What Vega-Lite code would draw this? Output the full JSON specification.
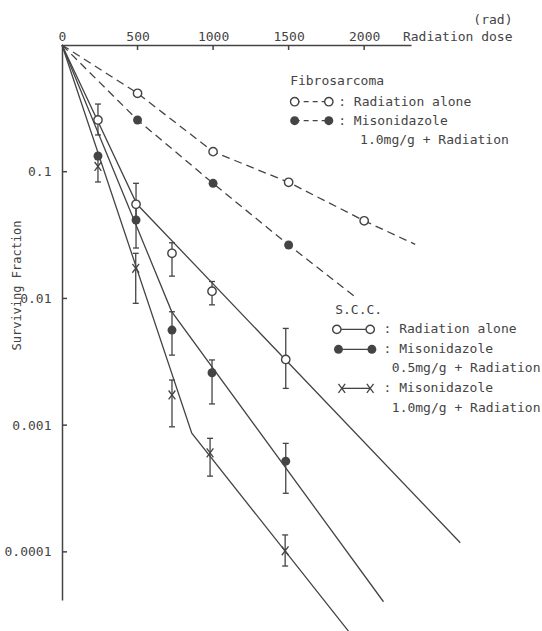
{
  "$schema": "https://vega.github.io/schema/vega-lite/v6.json",
  "width": 349,
  "height": 555,
  "autosize": {"type": "none"},
  "padding": {"left": 62, "top": 45, "right": 131, "bottom": 31},
  "background": "white",
  "config": {
    "view": {"stroke": null},
    "font": "DejaVu Sans Mono",
    "text": {"font": "DejaVu Sans Mono", "fontSize": 13, "color": "#444"}
  },
  "datasets": {
    "axisTicks": [
      {"axis": "x", "dose": 500, "frac": 1},
      {"axis": "x", "dose": 1000, "frac": 1},
      {"axis": "x", "dose": 1500, "frac": 1},
      {"axis": "x", "dose": 2000, "frac": 1},
      {"axis": "y", "dose": 0, "frac": 0.1},
      {"axis": "y", "dose": 0, "frac": 0.01},
      {"axis": "y", "dose": 0, "frac": 0.001},
      {"axis": "y", "dose": 0, "frac": 0.0001}
    ],
    "curves": [
      {"tumor": "Fibrosarcoma", "treatment": "Radiation alone", "dose": 0, "frac": 1},
      {"tumor": "Fibrosarcoma", "treatment": "Radiation alone", "dose": 500, "frac": 0.416},
      {"tumor": "Fibrosarcoma", "treatment": "Radiation alone", "dose": 1000, "frac": 0.144},
      {"tumor": "Fibrosarcoma", "treatment": "Radiation alone", "dose": 1500, "frac": 0.0825},
      {"tumor": "Fibrosarcoma", "treatment": "Radiation alone", "dose": 2000, "frac": 0.041},
      {"tumor": "Fibrosarcoma", "treatment": "Radiation alone", "dose": 2338, "frac": 0.0267},
      {"tumor": "Fibrosarcoma", "treatment": "Misonidazole 1.0mg/g + Radiation", "dose": 0, "frac": 1},
      {"tumor": "Fibrosarcoma", "treatment": "Misonidazole 1.0mg/g + Radiation", "dose": 500, "frac": 0.256},
      {"tumor": "Fibrosarcoma", "treatment": "Misonidazole 1.0mg/g + Radiation", "dose": 1000, "frac": 0.081},
      {"tumor": "Fibrosarcoma", "treatment": "Misonidazole 1.0mg/g + Radiation", "dose": 1500, "frac": 0.0264},
      {"tumor": "Fibrosarcoma", "treatment": "Misonidazole 1.0mg/g + Radiation", "dose": 1940, "frac": 0.0103},
      {"tumor": "S.C.C.", "treatment": "Radiation alone", "dose": 0, "frac": 1},
      {"tumor": "S.C.C.", "treatment": "Radiation alone", "dose": 495, "frac": 0.0556},
      {"tumor": "S.C.C.", "treatment": "Radiation alone", "dose": 2636, "frac": 0.000118},
      {"tumor": "S.C.C.", "treatment": "Misonidazole 0.5mg/g + Radiation", "dose": 0, "frac": 1},
      {"tumor": "S.C.C.", "treatment": "Misonidazole 0.5mg/g + Radiation", "dose": 726, "frac": 0.00787},
      {"tumor": "S.C.C.", "treatment": "Misonidazole 0.5mg/g + Radiation", "dose": 2128, "frac": 0.0000404},
      {"tumor": "S.C.C.", "treatment": "Misonidazole 1.0mg/g + Radiation", "dose": 0, "frac": 1},
      {"tumor": "S.C.C.", "treatment": "Misonidazole 1.0mg/g + Radiation", "dose": 859, "frac": 0.000863},
      {"tumor": "S.C.C.", "treatment": "Misonidazole 1.0mg/g + Radiation", "dose": 1896, "frac": 0.0000237}
    ],
    "points": [
      {"tumor": "Fibrosarcoma", "treatment": "Radiation alone", "dose": 500, "frac": 0.416},
      {"tumor": "Fibrosarcoma", "treatment": "Radiation alone", "dose": 1000, "frac": 0.144},
      {"tumor": "Fibrosarcoma", "treatment": "Radiation alone", "dose": 1500, "frac": 0.0825},
      {"tumor": "Fibrosarcoma", "treatment": "Radiation alone", "dose": 2000, "frac": 0.041},
      {"tumor": "Fibrosarcoma", "treatment": "Misonidazole 1.0mg/g + Radiation", "dose": 500, "frac": 0.256},
      {"tumor": "Fibrosarcoma", "treatment": "Misonidazole 1.0mg/g + Radiation", "dose": 1000, "frac": 0.081},
      {"tumor": "Fibrosarcoma", "treatment": "Misonidazole 1.0mg/g + Radiation", "dose": 1500, "frac": 0.0264},
      {"tumor": "S.C.C.", "treatment": "Radiation alone", "dose": 238, "frac": 0.256, "lo": 0.195, "hi": 0.342},
      {"tumor": "S.C.C.", "treatment": "Radiation alone", "dose": 490, "frac": 0.0553, "lo": 0.042, "hi": 0.081},
      {"tumor": "S.C.C.", "treatment": "Radiation alone", "dose": 728, "frac": 0.0227, "lo": 0.015, "hi": 0.0275},
      {"tumor": "S.C.C.", "treatment": "Radiation alone", "dose": 993, "frac": 0.0114, "lo": 0.0089, "hi": 0.0136},
      {"tumor": "S.C.C.", "treatment": "Radiation alone", "dose": 1481, "frac": 0.0033, "lo": 0.00195, "hi": 0.0058},
      {"tumor": "S.C.C.", "treatment": "Misonidazole 0.5mg/g + Radiation", "dose": 238, "frac": 0.133},
      {"tumor": "S.C.C.", "treatment": "Misonidazole 0.5mg/g + Radiation", "dose": 490, "frac": 0.0416, "lo": 0.025, "hi": 0.055},
      {"tumor": "S.C.C.", "treatment": "Misonidazole 0.5mg/g + Radiation", "dose": 728, "frac": 0.00563, "lo": 0.00357, "hi": 0.00785},
      {"tumor": "S.C.C.", "treatment": "Misonidazole 0.5mg/g + Radiation", "dose": 993, "frac": 0.00259, "lo": 0.00147, "hi": 0.00327},
      {"tumor": "S.C.C.", "treatment": "Misonidazole 0.5mg/g + Radiation", "dose": 1481, "frac": 0.00052, "lo": 0.00029, "hi": 0.000718},
      {"tumor": "S.C.C.", "treatment": "Misonidazole 1.0mg/g + Radiation", "dose": 238, "frac": 0.11, "lo": 0.083, "hi": 0.125},
      {"tumor": "S.C.C.", "treatment": "Misonidazole 1.0mg/g + Radiation", "dose": 488, "frac": 0.0173, "lo": 0.00915, "hi": 0.0227},
      {"tumor": "S.C.C.", "treatment": "Misonidazole 1.0mg/g + Radiation", "dose": 728, "frac": 0.00173, "lo": 0.00097, "hi": 0.00227},
      {"tumor": "S.C.C.", "treatment": "Misonidazole 1.0mg/g + Radiation", "dose": 980, "frac": 0.000605, "lo": 0.000396, "hi": 0.000787},
      {"tumor": "S.C.C.", "treatment": "Misonidazole 1.0mg/g + Radiation", "dose": 1477, "frac": 0.000102, "lo": 0.0000773, "hi": 0.000136}
    ],
    "legendSym": [
      {"tumor": "Fibrosarcoma", "treatment": "Radiation alone", "d1": 1540, "d2": 1766, "frac": 0.357},
      {"tumor": "Fibrosarcoma", "treatment": "Misonidazole 1.0mg/g + Radiation", "d1": 1540, "d2": 1766, "frac": 0.2527},
      {"tumor": "S.C.C.", "treatment": "Radiation alone", "d1": 1819, "d2": 2040, "frac": 0.0057},
      {"tumor": "S.C.C.", "treatment": "Misonidazole 0.5mg/g + Radiation", "d1": 1830, "d2": 2051, "frac": 0.003965},
      {"tumor": "S.C.C.", "treatment": "Misonidazole 1.0mg/g + Radiation", "d1": 1852, "d2": 2040, "frac": 0.001952}
    ],
    "legendText": [
      {"label": "Fibrosarcoma", "dose": 1510, "frac": 0.522},
      {"label": ": Radiation alone", "dose": 1828, "frac": 0.357},
      {"label": ": Misonidazole", "dose": 1828, "frac": 0.2527},
      {"label": "1.0mg/g + Radiation", "dose": 1973, "frac": 0.178},
      {"label": "S.C.C.", "dose": 1808, "frac": 0.0081},
      {"label": ": Radiation alone", "dose": 2128, "frac": 0.0057},
      {"label": ": Misonidazole", "dose": 2128, "frac": 0.003965},
      {"label": "0.5mg/g + Radiation", "dose": 2183, "frac": 0.002806},
      {"label": ": Misonidazole", "dose": 2128, "frac": 0.001952},
      {"label": "1.0mg/g + Radiation", "dose": 2183, "frac": 0.001357}
    ]
  },
  "encoding": {
    "x": {
      "field": "dose", "type": "quantitative",
      "scale": {"type": "linear", "domain": [0, 2310], "nice": false, "zero": false},
      "axis": {
        "orient": "top", "values": [0, 500, 1000, 1500, 2000], "format": "d", "grid": false,
        "ticks": false,
        "domainColor": "#444", "domainWidth": 1.5,
        "labelPadding": 2, "labelFontSize": 13, "labelFont": "DejaVu Sans Mono", "labelColor": "#444",
        "labelFlush": false, "labelOverlap": false,
        "title": ["(rad)", "Radiation dose"], "titleFont": "DejaVu Sans Mono", "titleFontSize": 13,
        "titleFontWeight": "normal", "titleColor": "#444", "titleAlign": "right",
        "titleX": 450, "titleY": -19, "titleBaseline": "bottom", "titleLineHeight": 17, "titleAngle": 0
      }
    },
    "y": {
      "field": "frac", "type": "quantitative",
      "scale": {"type": "log", "domain": [0.0000417, 1], "nice": false},
      "axis": {
        "orient": "left", "values": [0.1, 0.01, 0.001, 0.0001], "grid": false,
        "ticks": false,
        "domainColor": "#444", "domainWidth": 1.5,
        "labelPadding": 11, "labelFontSize": 13, "labelFont": "DejaVu Sans Mono", "labelColor": "#444",
        "labelFlush": false, "labelOverlap": false, "labelExpr": "toString(datum.value)",
        "title": "Surviving Fraction", "titleFont": "DejaVu Sans Mono", "titleFontSize": 12,
        "titleFontWeight": "normal", "titleColor": "#444", "titleAlign": "center",
        "titleBaseline": "middle", "titleAngle": 270, "titleX": -46, "titleY": 240
      }
    }
  },
  "layer": [
    {
      "data": {"name": "axisTicks"},
      "transform": [{"filter": "datum.axis == 'x'"}],
      "mark": {"type": "tick", "orient": "vertical", "clip": false, "color": "#444", "size": 5, "thickness": 1.5, "opacity": 1, "yOffset": 2.5}
    },
    {
      "data": {"name": "axisTicks"},
      "transform": [{"filter": "datum.axis == 'y'"}],
      "mark": {"type": "tick", "orient": "horizontal", "clip": false, "color": "#444", "size": 5, "thickness": 1.5, "opacity": 1, "xOffset": 2.5}
    },
    {
      "data": {"name": "curves"},
      "transform": [{"filter": "datum.tumor == 'Fibrosarcoma'"}],
      "mark": {"type": "line", "clip": false, "color": "#444", "strokeWidth": 1.3, "strokeDash": [8, 5]},
      "encoding": {"detail": {"field": "treatment"}}
    },
    {
      "data": {"name": "curves"},
      "transform": [{"filter": "datum.tumor == 'S.C.C.'"}],
      "mark": {"type": "line", "clip": false, "color": "#444", "strokeWidth": 1.3},
      "encoding": {"detail": {"field": "treatment"}}
    },
    {
      "data": {"name": "points"},
      "transform": [
        {"filter": "isValid(datum.lo)"},
        {"fold": ["lo", "hi"], "as": ["bound", "frac"]}
      ],
      "mark": {"type": "line", "clip": false, "color": "#444", "strokeWidth": 1.3},
      "encoding": {"detail": [{"field": "treatment"}, {"field": "dose"}]}
    },
    {
      "data": {"name": "points"},
      "transform": [
        {"filter": "isValid(datum.lo)"},
        {"fold": ["lo", "hi"], "as": ["bound", "frac"]}
      ],
      "mark": {"type": "tick", "orient": "horizontal", "clip": false, "color": "#444", "size": 6, "thickness": 1.3, "opacity": 1}
    },
    {
      "data": {"name": "points"},
      "transform": [{"filter": "datum.treatment == 'Radiation alone'"}],
      "mark": {"type": "point", "shape": "circle", "filled": true, "fill": "white", "stroke": "#444", "strokeWidth": 1.4, "size": 70, "opacity": 1, "clip": false}
    },
    {
      "data": {"name": "points"},
      "transform": [{"filter": "(datum.tumor == 'Fibrosarcoma' && datum.treatment != 'Radiation alone') || datum.treatment == 'Misonidazole 0.5mg/g + Radiation'"}],
      "mark": {"type": "point", "shape": "circle", "filled": true, "fill": "#444", "size": 80, "opacity": 1, "clip": false}
    },
    {
      "data": {"name": "points"},
      "transform": [{"filter": "datum.tumor == 'S.C.C.' && datum.treatment == 'Misonidazole 1.0mg/g + Radiation'"}],
      "mark": {"type": "point", "shape": "M-0.75,-1L0.75,1M0.75,-1L-0.75,1", "filled": false, "stroke": "#444", "strokeWidth": 1.3, "size": 80, "opacity": 1, "clip": false}
    },
    {
      "data": {"name": "legendSym"},
      "transform": [
        {"filter": "datum.tumor == 'Fibrosarcoma'"},
        {"fold": ["d1", "d2"], "as": ["end", "dose"]}
      ],
      "mark": {"type": "line", "clip": false, "color": "#444", "strokeWidth": 1.3, "strokeDash": [5, 4]},
      "encoding": {"detail": {"field": "treatment"}}
    },
    {
      "data": {"name": "legendSym"},
      "transform": [
        {"filter": "datum.tumor == 'S.C.C.'"},
        {"fold": ["d1", "d2"], "as": ["end", "dose"]}
      ],
      "mark": {"type": "line", "clip": false, "color": "#444", "strokeWidth": 1.3},
      "encoding": {"detail": {"field": "treatment"}}
    },
    {
      "data": {"name": "legendSym"},
      "transform": [
        {"filter": "datum.treatment == 'Radiation alone'"},
        {"fold": ["d1", "d2"], "as": ["end", "dose"]}
      ],
      "mark": {"type": "point", "shape": "circle", "filled": true, "fill": "white", "stroke": "#444", "strokeWidth": 1.4, "size": 70, "opacity": 1, "clip": false}
    },
    {
      "data": {"name": "legendSym"},
      "transform": [
        {"filter": "(datum.tumor == 'Fibrosarcoma' && datum.treatment != 'Radiation alone') || datum.treatment == 'Misonidazole 0.5mg/g + Radiation'"},
        {"fold": ["d1", "d2"], "as": ["end", "dose"]}
      ],
      "mark": {"type": "point", "shape": "circle", "filled": true, "fill": "#444", "size": 80, "opacity": 1, "clip": false}
    },
    {
      "data": {"name": "legendSym"},
      "transform": [
        {"filter": "datum.tumor == 'S.C.C.' && datum.treatment == 'Misonidazole 1.0mg/g + Radiation'"},
        {"fold": ["d1", "d2"], "as": ["end", "dose"]}
      ],
      "mark": {"type": "point", "shape": "M-0.75,-1L0.75,1M0.75,-1L-0.75,1", "filled": false, "stroke": "#444", "strokeWidth": 1.3, "size": 80, "opacity": 1, "clip": false}
    },
    {
      "data": {"name": "legendText"},
      "mark": {"type": "text", "align": "left", "baseline": "middle", "clip": false, "font": "DejaVu Sans Mono", "fontSize": 13, "color": "#444"},
      "encoding": {"text": {"field": "label"}}
    }
  ]
}
